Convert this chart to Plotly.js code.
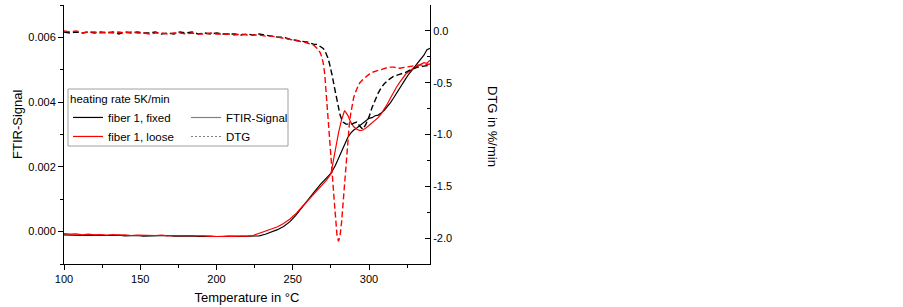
<!DOCTYPE html>
<html><head><meta charset="utf-8">
<script src="https://cdn.plot.ly/plotly-3.0.1.min.js"></script>
<style>html,body{margin:0;padding:0;background:#fff}#chart{width:903px;height:307px}</style>
</head><body><div id="chart"></div>
<script>
// ---------- data ----------
const temperatureFTIR = [100,104,108,112,116,120,124,128,132,136,140,144,148,152,156,160,164,168,172,176,180,184,188,192,196,200,204,208,212,216,220,224,228,232,236,240,244,248,252,256,260,264,268,272,275,278,280,282,284,286,288,290,292,294,296,298,300,302,304,306,308,310,312,314,316,318,320,322,324,326,328,330,332,334,336,338,340];
const ftirFixed = [-0.00010,-0.00011,-0.00010,-0.00012,-0.00011,-0.00012,-0.00011,-0.00012,-0.00012,-0.00011,-0.00013,-0.00012,-0.00012,-0.00014,-0.00013,-0.00012,-0.00013,-0.00012,-0.00014,-0.00013,-0.00014,-0.00013,-0.00015,-0.00014,-0.00014,-0.00015,-0.00014,-0.00015,-0.00014,-0.00015,-0.00014,-0.00015,-0.00013,-0.00008,-0.00002,0.00006,0.00016,0.00030,0.00050,0.00075,0.00098,0.00122,0.00145,0.00165,0.00180,0.00205,0.00225,0.00248,0.00270,0.00290,0.00304,0.00314,0.00320,0.00327,0.00334,0.00342,0.00350,0.00352,0.00358,0.00360,0.00366,0.00375,0.00386,0.00398,0.00412,0.00428,0.00442,0.00456,0.00472,0.00486,0.00498,0.00510,0.00520,0.00532,0.00545,0.00562,0.00566];
const ftirLoose = [-0.00006,-0.00008,-0.00007,-0.00010,-0.00008,-0.00010,-0.00009,-0.00011,-0.00009,-0.00011,-0.00010,-0.00012,-0.00011,-0.00012,-0.00011,-0.00012,-0.00011,-0.00013,-0.00012,-0.00012,-0.00013,-0.00012,-0.00014,-0.00013,-0.00015,-0.00016,-0.00015,-0.00014,-0.00015,-0.00013,-0.00014,-0.00012,-0.00006,0.00002,0.00008,0.00015,0.00025,0.00038,0.00055,0.00076,0.00096,0.00118,0.00138,0.00158,0.00178,0.00260,0.00305,0.00345,0.00374,0.00360,0.00338,0.00324,0.00316,0.00312,0.00314,0.00320,0.00328,0.00336,0.00344,0.00352,0.00364,0.00378,0.00394,0.00412,0.00430,0.00446,0.00460,0.00474,0.00486,0.00494,0.00502,0.00508,0.00512,0.00516,0.00522,0.00520,0.00530];

const temperatureDTG = [100,104,108,112,116,120,124,128,132,136,140,144,148,152,156,160,164,168,172,176,180,184,188,192,196,200,204,208,212,216,220,224,228,232,236,240,244,248,252,256,258,260,262,264,266,268,269,270,271,272,273,274,275,276,277,278,279,280,281,282,283,284,285,286,287,288,289,290,292,294,296,298,300,302,304,306,308,310,313,316,320,324,328,332,336,340];
const dtgFixed = [-0.01,-0.02,-0.01,-0.02,-0.01,-0.02,-0.01,-0.02,-0.01,-0.03,-0.01,-0.02,-0.01,-0.02,-0.02,-0.01,-0.03,-0.02,-0.03,-0.01,-0.02,-0.01,-0.03,-0.02,-0.03,-0.02,-0.03,-0.03,-0.03,-0.04,-0.03,-0.04,-0.03,-0.04,-0.05,-0.06,-0.06,-0.08,-0.09,-0.10,-0.10,-0.11,-0.12,-0.13,-0.13,-0.15,-0.16,-0.17,-0.19,-0.22,-0.26,-0.31,-0.37,-0.44,-0.52,-0.60,-0.68,-0.75,-0.81,-0.85,-0.88,-0.89,-0.90,-0.90,-0.90,-0.90,-0.90,-0.89,-0.88,-0.92,-0.95,-0.90,-0.83,-0.74,-0.66,-0.60,-0.55,-0.51,-0.47,-0.44,-0.42,-0.40,-0.37,-0.35,-0.34,-0.33];
const dtgLoose = [0.00,-0.01,0.00,-0.02,-0.01,-0.01,-0.02,-0.01,-0.02,-0.01,-0.02,-0.01,-0.02,-0.02,-0.03,-0.02,-0.02,-0.03,-0.02,-0.02,-0.03,-0.02,-0.03,-0.03,-0.02,-0.03,-0.03,-0.03,-0.04,-0.03,-0.04,-0.04,-0.04,-0.05,-0.05,-0.06,-0.07,-0.08,-0.09,-0.10,-0.11,-0.12,-0.13,-0.14,-0.17,-0.21,-0.25,-0.31,-0.42,-0.60,-0.80,-1.00,-1.20,-1.40,-1.60,-1.80,-1.97,-2.03,-1.98,-1.85,-1.65,-1.45,-1.25,-1.08,-0.92,-0.80,-0.71,-0.64,-0.56,-0.50,-0.47,-0.44,-0.42,-0.40,-0.39,-0.38,-0.37,-0.36,-0.35,-0.35,-0.36,-0.35,-0.34,-0.33,-0.33,-0.32];

const xTickVals = [100,150,200,250,300];
const leftTickVals = [0,0.002,0.004,0.006];
const leftTickText = ['0.000','0.002','0.004','0.006'];
const rightTickVals = [0,-0.5,-1,-1.5,-2];
const rightTickText = ['0.0','-0.5','-1.0','-1.5','-2.0'];
const seriesNames = ['fiber 1, fixed','fiber 1, loose'];
const quantityNames = ['FTIR-Signal','DTG'];

// ---------- styling ----------
const FONT = 'Liberation Sans, Arial, sans-serif';
const BLACK = '#000000', RED = '#ff0000', GREY = '#808080';
const DASH = '6px,3px';

const traces = [
  {x: temperatureFTIR, y: ftirFixed, type:'scatter', mode:'lines', name: seriesNames[0],
   line:{color:BLACK, width:1.2}, xaxis:'x', yaxis:'y', legend:'legend'},
  {x: temperatureFTIR, y: ftirLoose, type:'scatter', mode:'lines', name: seriesNames[1],
   line:{color:RED, width:1.2}, xaxis:'x', yaxis:'y', legend:'legend'},
  {x: temperatureDTG, y: dtgFixed, type:'scatter', mode:'lines', name:'DTG fixed', showlegend:false,
   line:{color:BLACK, width:1.4, dash:DASH}, xaxis:'x', yaxis:'y2'},
  {x: temperatureDTG, y: dtgLoose, type:'scatter', mode:'lines', name:'DTG loose', showlegend:false,
   line:{color:RED, width:1.4, dash:DASH}, xaxis:'x', yaxis:'y2'},
  {x:[null], y:[null], type:'scatter', mode:'lines', name: quantityNames[0],
   line:{color:GREY, width:1.2}, xaxis:'x', yaxis:'y', legend:'legend2'},
  {x:[null], y:[null], type:'scatter', mode:'lines', name: quantityNames[1],
   line:{color:GREY, width:1.2, dash:'2px,2px'}, xaxis:'x', yaxis:'y', legend:'legend2'}
];

const W = 903, H = 307;
const M = {l:64, r:473, t:5, b:43};
const PW = W - M.l - M.r, PH = H - M.t - M.b;
const px = v => (v - M.l) / PW;        // pixel x -> paper x
const py = v => (H - M.b - v) / PH;    // pixel y -> paper y

const tickFont = {family:FONT, size:11, color:BLACK};
const layout = {
  width:W, height:H, margin:M,
  paper_bgcolor:'#fff', plot_bgcolor:'#fff',
  font:{family:FONT, size:11, color:BLACK},
  showlegend:true,
  xaxis:{range:[100,340], tickmode:'array', tickvals:xTickVals, ticks:'outside', ticklen:5, tickwidth:1, tickcolor:BLACK,
    minor:{dtick:25, tick0:100, ticks:'outside', ticklen:3, tickwidth:1, tickcolor:BLACK, showgrid:false},
    showline:true, linecolor:BLACK, linewidth:1, showgrid:false, zeroline:false, tickfont:tickFont,
    title:{text:'Temperature in °C', font:{family:FONT, size:13, color:BLACK}, standoff:8}},
  xaxis2:{range:[100,340], overlaying:'x', side:'top', anchor:'y', tickmode:'array', tickvals:xTickVals,
    ticks:'inside', ticklen:5, tickwidth:1, tickcolor:BLACK,
    minor:{dtick:25, tick0:100, ticks:'inside', ticklen:3, tickwidth:1, tickcolor:BLACK, showgrid:false},
    showline:true, linecolor:BLACK, linewidth:1, showgrid:false, zeroline:false, showticklabels:false},
  yaxis:{range:[-0.001,0.007], tickmode:'array', tickvals:leftTickVals, ticktext:leftTickText,
    ticks:'outside', ticklen:5, tickwidth:1, tickcolor:BLACK,
    minor:{dtick:0.001, tick0:0, ticks:'outside', ticklen:3, tickwidth:1, tickcolor:BLACK, showgrid:false},
    showline:true, linecolor:BLACK, linewidth:1, showgrid:false, zeroline:false, tickfont:tickFont},
  yaxis2:{range:[-2.25,0.25], overlaying:'y', side:'right', anchor:'x', tickmode:'array', tickvals:rightTickVals, ticktext:rightTickText,
    ticks:'inside', ticklen:5, tickwidth:1, tickcolor:BLACK,
    minor:{dtick:0.25, tick0:0, ticks:'inside', ticklen:3, tickwidth:1, tickcolor:BLACK, showgrid:false},
    showline:true, linecolor:BLACK, linewidth:1, showgrid:false, zeroline:false, tickfont:tickFont},
  legend:{x:px(68), y:py(88), xanchor:'left', yanchor:'top', bgcolor:'rgba(0,0,0,0)', borderwidth:0,
    font:{family:FONT, size:11.5, color:BLACK}, itemwidth:30, tracegroupgap:0,
    title:{text:'heating rate 5K/min', side:'top', font:{family:FONT, size:11.5, color:BLACK}}},
  legend2:{x:px(186), y:py(103), xanchor:'left', yanchor:'top', bgcolor:'rgba(0,0,0,0)', borderwidth:0,
    font:{family:FONT, size:11.5, color:BLACK}, itemwidth:30, tracegroupgap:0},
  shapes:[{type:'rect', xref:'paper', yref:'paper', x0:px(68), x1:px(288), y0:py(146), y1:py(89),
    line:{color:'#a0a0a0', width:1}, fillcolor:'#ffffff', layer:'above'}],
  annotations:[
    {text:'FTIR-Signal', xref:'paper', yref:'paper', x:px(18), y:py(125), showarrow:false, textangle:-90,
     xanchor:'center', yanchor:'middle', font:{family:FONT, size:13, color:BLACK}},
    {text:'DTG in %/min', xref:'paper', yref:'paper', x:px(492), y:py(126), showarrow:false, textangle:90,
     xanchor:'center', yanchor:'middle', font:{family:FONT, size:13, color:BLACK}}
  ]
};

Plotly.newPlot('chart', traces, layout, {displayModeBar:false, staticPlot:true});
</script></body></html>
